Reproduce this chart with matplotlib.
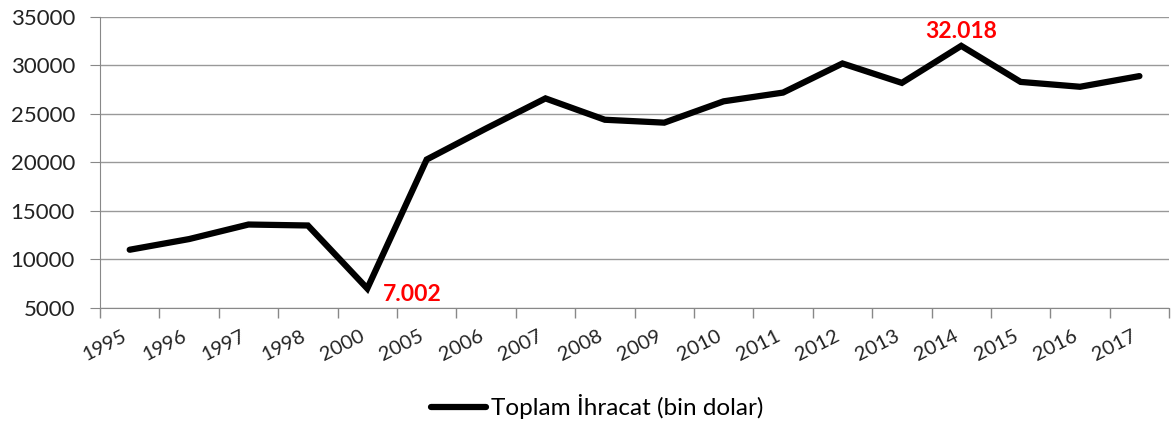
import matplotlib.pyplot as plt

years = ['1995', '1996', '1997', '1998', '2000', '2005', '2006', '2007', '2008',
         '2009', '2010', '2011', '2012', '2013', '2014', '2015', '2016', '2017']
exports = [11000, 12100, 13600, 13500, 7002, 20300, 23500, 26600, 24400,
           24100, 26300, 27200, 30200, 28200, 32018, 28300, 27800, 28900]

plt.rcParams['font.family'] = ['Lato', 'DejaVu Sans']

fig = plt.figure(figsize=(11.71, 4.23), dpi=100)
ax = fig.add_axes([0.0854, 0.272, 0.913, 0.688])

x = list(range(len(years)))
ax.plot(x, exports, color='black', linewidth=4.5, solid_joinstyle='miter',
        solid_capstyle='round', label='Toplam İhracat (bin dolar)')

ax.set_xlim(-0.5, len(years) - 0.5)
ax.set_ylim(5000, 35000)
ax.set_yticks(range(5000, 35001, 5000))
ax.tick_params(axis='y', length=7, color='#888888', labelsize=16, pad=11,
               labelcolor='#222222')

ax.set_xticks(x)
ax.set_xticklabels(years, rotation=27, ha='right', fontsize=14.5, color='#222222')
ax.tick_params(axis='x', which='major', length=0, pad=14)
ax.set_xticks([i - 0.5 for i in range(len(years) + 1)], minor=True)
ax.tick_params(axis='x', which='minor', length=7, color='#888888', width=1)

ax.grid(axis='y', color='#999999', linewidth=1)
ax.set_axisbelow(True)
for side in ['top', 'right']:
    ax.spines[side].set_visible(False)
for side in ['left', 'bottom']:
    ax.spines[side].set_color('#888888')

# highlight min and max
i_min = exports.index(min(exports))
i_max = exports.index(max(exports))
ax.annotate('7.002', xy=(i_min, exports[i_min]), xytext=(11, -4),
            textcoords='offset points', ha='left', va='center',
            color='#ff0000', fontsize=16.5, fontweight='bold')
ax.annotate('32.018', xy=(i_max, exports[i_max]), xytext=(0, 10),
            textcoords='offset points', ha='center', va='center',
            color='#ff0000', fontsize=16.5, fontweight='bold')

fig.legend(loc='center', bbox_to_anchor=(0.51, 0.038), frameon=False,
           fontsize=17.5, handlelength=2.25, handletextpad=0.2)

fig.savefig('out.png', dpi=100)
